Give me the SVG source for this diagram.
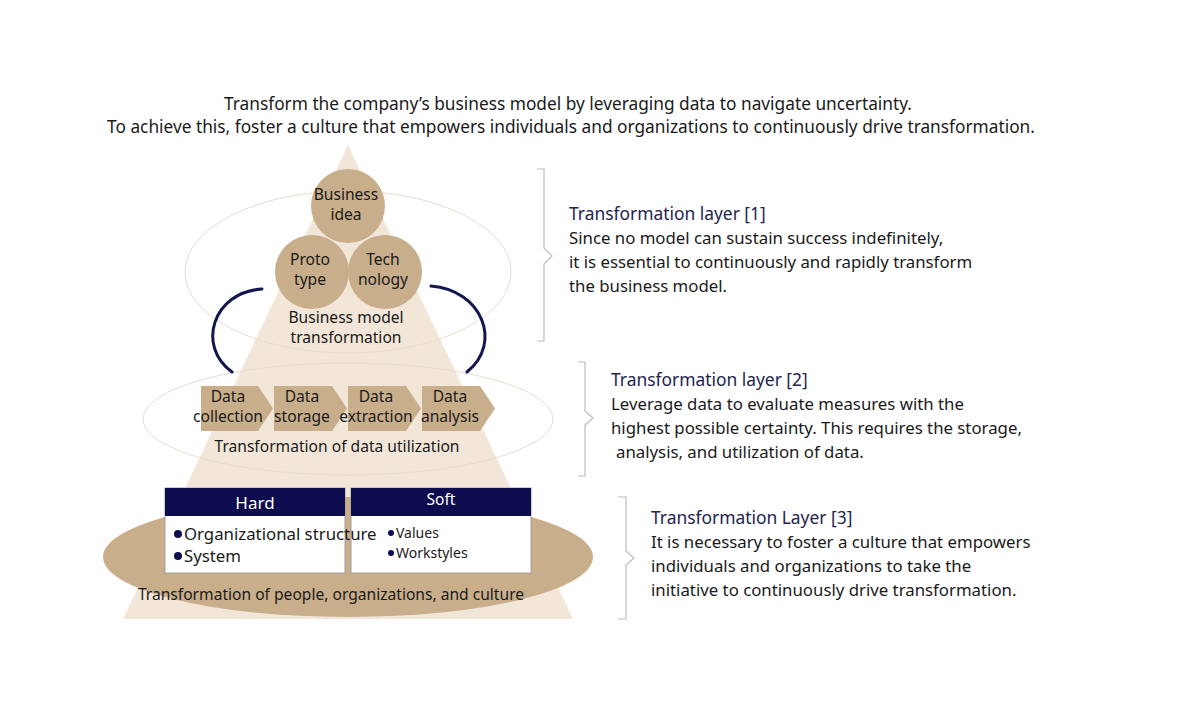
<svg xmlns="http://www.w3.org/2000/svg" width="1200" height="709" viewBox="0 0 1200 709">
<defs>
<style>
text{font-family:"Noto Sans","Open Sans","Liberation Sans",sans-serif;fill:#1a1a1a}
.lbl{font-size:15.6px;text-anchor:middle}
.circ{fill:#c8ae8a}
.chev{fill:#c8ae8a}
.ring{fill:none;stroke:#e6ddd0;stroke-width:1}
.arc{fill:none;stroke:#14174f;stroke-width:3;stroke-linecap:round}
.brace{fill:none;stroke:#bdbdbd;stroke-width:1.2}
.title{font-size:17.4px;fill:#23234f}
.body{font-size:16.8px;fill:#1a1a1a}
.top{font-size:17.3px;text-anchor:middle}
.hdr{fill:#0c0c4e}
.box{fill:#ffffff;stroke:#a0a0a0;stroke-width:1}
.bul{fill:#0c0c4e}
</style>
</defs>
<rect width="1200" height="709" fill="#ffffff"/>

<g id="heading">
<text class="top" x="568" y="110">Transform the company’s business model by leveraging data to navigate uncertainty.</text>
<text class="top" x="571" y="133">To achieve this, foster a culture that empowers individuals and organizations to continuously drive transformation.</text>
</g>

<g id="pyramid">
<polygon points="348,145 573,619 123,619" fill="#f2e6d8"/>
</g>

<g id="layer3-ellipse">
<ellipse cx="348" cy="557" rx="245" ry="60" fill="#c8ae8a"/>
</g>

<g id="layer1-ring">
<ellipse class="ring" cx="348" cy="272" rx="163" ry="81"/>
</g>
<g id="layer2-ring">
<ellipse class="ring" cx="348" cy="419" rx="205" ry="56"/>
</g>

<g id="connectors">
<path class="arc" d="M262,289 C213,292 196,346 232,372"/>
<path class="arc" d="M431,286 C482,290 503,343 467,372"/>
</g>

<g id="node-business-idea">
<circle class="circ" cx="348" cy="206" r="37"/>
<text class="lbl" x="346" y="200">Business</text>
<text class="lbl" x="346" y="220">idea</text>
</g>
<g id="node-prototype">
<circle class="circ" cx="312" cy="272" r="37"/>
<text class="lbl" x="310" y="265">Proto</text>
<text class="lbl" x="310" y="285">type</text>
</g>
<g id="node-technology">
<circle class="circ" cx="385" cy="272" r="37"/>
<text class="lbl" x="383" y="265">Tech</text>
<text class="lbl" x="383" y="285">nology</text>
</g>
<g id="label-bm">
<text class="lbl" x="346" y="323">Business model</text>
<text class="lbl" x="346" y="343">transformation</text>
</g>

<g id="node-data-collection">
<polygon class="chev" points="201,386 258,386 273,408.5 258,431 201,431"/>
<text class="lbl" x="228" y="402">Data</text>
<text class="lbl" x="228" y="422">collection</text>
</g>
<g id="node-data-storage">
<polygon class="chev" points="274,386 332,386 347,408.5 332,431 274,431"/>
<text class="lbl" x="302" y="402">Data</text>
<text class="lbl" x="302" y="422">storage</text>
</g>
<g id="node-data-extraction">
<polygon class="chev" points="348,386 406,386 421,408.5 406,431 348,431"/>
<text class="lbl" x="376" y="402">Data</text>
<text class="lbl" x="376" y="422">extraction</text>
</g>
<g id="node-data-analysis">
<polygon class="chev" points="422,386 480,386 495,408.5 480,431 422,431"/>
<text class="lbl" x="450" y="402">Data</text>
<text class="lbl" x="450" y="422">analysis</text>
</g>
<g id="label-data">
<text class="lbl" x="337" y="452">Transformation of data utilization</text>
</g>

<g id="node-soft">
<rect class="box" x="351" y="488" width="180" height="85"/>
<rect class="hdr" x="351" y="488" width="180" height="28"/>
<text x="441" y="505" text-anchor="middle" style="font-size:15.6px;fill:#ffffff">Soft</text>
<circle class="bul" cx="391" cy="533" r="3"/>
<text x="396" y="538" style="font-size:14px">Values</text>
<circle class="bul" cx="391" cy="553" r="3"/>
<text x="396" y="558" style="font-size:14px">Workstyles</text>
</g>
<g id="node-hard">
<rect class="box" x="165" y="488" width="180" height="85"/>
<rect class="hdr" x="165" y="488" width="180" height="28"/>
<text x="255" y="509" text-anchor="middle" style="font-size:17px;fill:#ffffff">Hard</text>
<circle class="bul" cx="178" cy="534" r="4"/>
<text x="184" y="540" style="font-size:16.8px">Organizational structure</text>
<circle class="bul" cx="178" cy="556" r="4"/>
<text x="184" y="562" style="font-size:16.8px">System</text>
</g>
<g id="label-people">
<text class="lbl" x="331" y="600">Transformation of people, organizations, and culture</text>
</g>

<g id="brace-1">
<path class="brace" d="M537,169 H544 V248 L552,256 L544,264 V341 H537"/>
</g>
<g id="brace-2">
<path class="brace" d="M578,362 H585 V411 L593,418 L585,425 V476 H578"/>
</g>
<g id="brace-3">
<path class="brace" d="M618,497 H626 V551 L634,558 L626,565 V619 H618"/>
</g>

<g id="desc-1">
<text class="title" x="569" y="220">Transformation layer [1]</text>
<text class="body" x="569" y="244">Since no model can sustain success indefinitely,</text>
<text class="body" x="569" y="268">it is essential to continuously and rapidly transform</text>
<text class="body" x="569" y="292">the business model.</text>
</g>
<g id="desc-2">
<text class="title" x="611" y="386">Transformation layer [2]</text>
<text class="body" x="611" y="410">Leverage data to evaluate measures with the</text>
<text class="body" x="611" y="434">highest possible certainty. This requires the storage,</text>
<text class="body" x="616" y="458">analysis, and utilization of data.</text>
</g>
<g id="desc-3">
<text class="title" x="651" y="524">Transformation Layer [3]</text>
<text class="body" x="651" y="548">It is necessary to foster a culture that empowers</text>
<text class="body" x="651" y="572">individuals and organizations to take the</text>
<text class="body" x="651" y="596">initiative to continuously drive transformation.</text>
</g>
</svg>
